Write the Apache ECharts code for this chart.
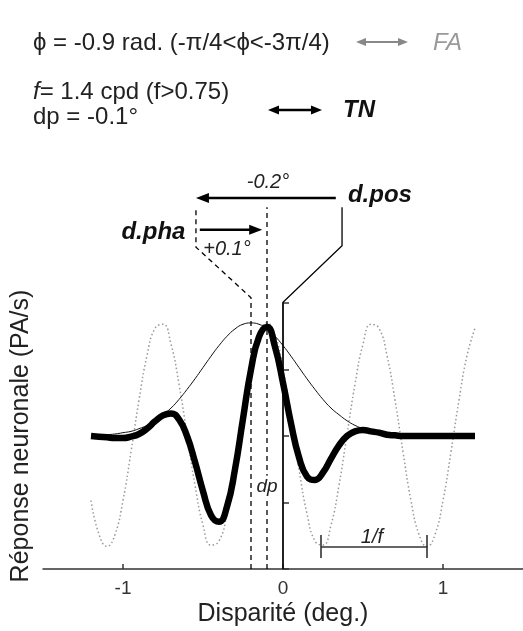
<!DOCTYPE html>
<html><head><meta charset="utf-8">
<script src="https://cdn.jsdelivr.net/npm/echarts@6/dist/echarts.min.js"></script>
<style>html,body{margin:0;padding:0;background:#fff}#c{width:523px;height:631px}</style>
</head><body><div id="c"></div>
<script>
// ---- data ----
const disparity = [-1.2,-1.15,-1.1,-1.05,-1.0,-0.95,-0.9,-0.85,-0.8,-0.75,-0.7,-0.65,-0.6,-0.55,-0.5,-0.45,-0.4,-0.35,-0.3,-0.25,-0.2,-0.15,-0.1,-0.05,0,0.05,0.1,0.15,0.2,0.25,0.3,0.35,0.4,0.45,0.5,0.55,0.6,0.65,0.7,0.75,0.8,0.85,0.9,0.95,1.0,1.05,1.1,1.15,1.2];
const gaborResponse = [2.00,1.99,1.98,1.97,1.97,1.99,2.03,2.11,2.22,2.31,2.34,2.25,2.00,1.61,1.17,0.81,0.71,0.94,1.50,2.26,3.00,3.49,3.64,3.34,2.80,2.19,1.68,1.39,1.34,1.45,1.66,1.86,2.00,2.07,2.09,2.07,2.05,2.02,2.01,2.00,2.00,2.00,2.00,2.00,2.00,2.00,2.00,2.00,2.00];
const gaussEnvelope = [2.01,2.01,2.02,2.03,2.05,2.07,2.11,2.16,2.23,2.32,2.42,2.55,2.70,2.86,3.03,3.20,3.36,3.50,3.61,3.68,3.70,3.68,3.61,3.50,3.36,3.20,3.03,2.86,2.70,2.55,2.42,2.32,2.23,2.16,2.11,2.07,2.05,2.03,2.02,2.01,2.01,2.00,2.00,2.00,2.00,2.00,2.00,2.00,2.00];
const carrierWave = [1.03,0.52,0.34,0.52,1.03,1.76,2.54,3.21,3.62,3.68,3.38,2.78,2.02,1.26,0.66,0.36,0.42,0.83,1.50,2.28,3.01,3.52,3.70,3.52,3.01,2.28,1.50,0.83,0.42,0.36,0.66,1.26,2.02,2.78,3.38,3.68,3.62,3.21,2.54,1.76,1.03,0.52,0.34,0.52,1.03,1.76,2.54,3.21,3.62];
const xTicks = [-1, 0, 1];
// annotation geometry in data units
const funnelPha = [[-0.2,0],[-0.2,4.08],[-0.544,4.84],[-0.544,5.44]];
const dpLine = [[-0.1,0],[-0.1,5.44]];
const funnelPos = [[0,0],[0,4.01],[0.369,4.86],[0.369,5.44]];
const arrowPos = [[0.33,5.58],[-0.544,5.58]];
const arrowPha = [[-0.52,5.1],[-0.13,5.1]];
const periodBar = [[0.2375,0.33],[0.9,0.33]];

const FONT = "'Liberation Sans', Arial, Helvetica, sans-serif";
const chart = echarts.init(document.getElementById('c'), null, {renderer:'canvas'});

const pts = arr => disparity.map((x,i)=>[x, arr[i]]);
chart.setOption({
  animation:false,
  backgroundColor:'#fff',
  grid:{left:43,right:0,top:303,bottom:62,containLabel:false,outerBoundsMode:'none'},
  xAxis:{type:'value',min:-1.5,max:1.5,interval:0.5,
    name:'Disparité (deg.)',nameLocation:'middle',nameGap:33,
    nameTextStyle:{fontSize:25,color:'#222',fontFamily:FONT},
    axisLine:{show:true,onZero:false,lineStyle:{color:'#333',width:1.5}},
    axisTick:{show:true,inside:true,length:5,customValues:xTicks,lineStyle:{color:'#333',width:1.5}},
    axisLabel:{customValues:xTicks,fontSize:19,color:'#333',margin:10,fontFamily:FONT},
    splitLine:{show:false}},
  yAxis:{type:'value',min:0,max:4,interval:1,
    name:'Réponse neuronale (PA/s)',nameLocation:'middle',nameGap:9,
    nameTextStyle:{fontSize:25,color:'#222',fontFamily:FONT},
    axisLine:{show:true,lineStyle:{color:'#333',width:1.5}},
    axisTick:{show:true,inside:true,length:6,lineStyle:{color:'#333',width:1.5}},
    axisLabel:{show:false},
    splitLine:{show:false}},
  series:[
    {type:'line',data:pts(carrierWave),showSymbol:false,smooth:true,z:1,
      lineStyle:{color:'#999',width:1.5,type:[1.5,2.5]}},
    {type:'line',data:pts(gaussEnvelope),showSymbol:false,smooth:true,z:2,
      lineStyle:{color:'#111',width:1}},
    {type:'line',data:pts(gaborResponse),showSymbol:false,smooth:true,z:3,
      lineStyle:{color:'#000',width:6.5,cap:'butt',join:'round'}}
  ]
});

const P = (x,y) => chart.convertToPixel({gridIndex:0},[x,y]);
const g = [];
function poly(points, style){
  g.push({type:'polyline',z:10,shape:{points:points.map(p=>P(p[0],p[1]))},style:Object.assign({fill:null,stroke:'#000',lineWidth:1.3},style)});
}
function arrowPx(a,b,heads,color,lw,len,wid){
  const dx=b[0]-a[0], dy=b[1]-a[1], L=Math.hypot(dx,dy), ux=dx/L, uy=dy/L, px=-uy, py=ux;
  let s=a.slice(), e=b.slice();
  const head=(tip,dir)=>{
    const bx=tip[0]-dir*ux*len, by=tip[1]-dir*uy*len;
    g.push({type:'polygon',z:10,shape:{points:[tip,[bx+px*wid/2,by+py*wid/2],[bx-px*wid/2,by-py*wid/2]]},style:{fill:color}});
    return [bx+dir*ux*1, by+dir*uy*1];
  };
  if(heads.includes('end')) e=head(b,1);
  if(heads.includes('start')) s=head(a,-1);
  g.push({type:'line',z:10,shape:{x1:s[0],y1:s[1],x2:e[0],y2:e[1]},style:{stroke:color,lineWidth:lw}});
}
function text(t,x,y,opt){
  g.push({type:'text',z:11,x:x,y:y,style:Object.assign({text:t,fontFamily:FONT,fontSize:24,fill:'#222',align:'left',verticalAlign:'middle'},opt)});
}

// funnel / reference lines
poly(funnelPha,{lineDash:[5,4]});
poly(dpLine,{lineDash:[5,4]});
poly(funnelPos,{});
// arrows in plot coordinates
arrowPx(P(...arrowPos[0]),P(...arrowPos[1]),['end'],'#000',2.5,13,10);
arrowPx(P(...arrowPha[0]),P(...arrowPha[1]),['end'],'#000',2.5,13,10);
// 1/f bar
const pb0=P(...periodBar[0]), pb1=P(...periodBar[1]);
g.push({type:'line',z:10,shape:{x1:pb0[0],y1:pb0[1],x2:pb1[0],y2:pb1[1]},style:{stroke:'#333',lineWidth:1.6}});
[pb0,pb1].forEach(p=>g.push({type:'line',z:10,shape:{x1:p[0],y1:p[1]-12,x2:p[0],y2:p[1]+11},style:{stroke:'#333',lineWidth:1.6}}));

// plot annotation labels
let q;
q=P(-0.094,5.82); text('-0.2°',q[0],q[1],{fontStyle:'italic',fontSize:20,align:'center'});
q=P(0.406,5.62); text('d.pos',q[0],q[1],{fontStyle:'italic',fontWeight:'bold',fontSize:24,fill:'#111'});
q=P(-0.61,5.06); text('d.pha',q[0],q[1],{fontStyle:'italic',fontWeight:'bold',fontSize:24,fill:'#111',align:'right'});
q=P(-0.35,4.8); text('+0.1°',q[0],q[1],{fontStyle:'italic',fontSize:20,align:'center'});
q=P(-0.1,1.23); text('dp',q[0],q[1],{fontStyle:'italic',fontSize:19,align:'center',backgroundColor:'#fff',padding:[2,1]});
q=P(0.556,0.48); text('1/f',q[0],q[1],{fontStyle:'italic',fontSize:20,align:'center'});

// header
text('\u03D5 = -0.9 rad. (-\u03C0/4<\u03D5<-3\u03C0/4)',33,43,{fontSize:24});
arrowPx([356,42],[408,42],['start','end'],'#888',2,10,8);
text('FA',433,43,{fontStyle:'italic',fontSize:24,fill:'#999'});
g.push({type:'text',z:11,x:33,y:92,style:{text:'{i|f}= 1.4 cpd (f>0.75)',fontFamily:FONT,fontSize:24,fill:'#222',align:'left',verticalAlign:'middle',rich:{i:{fontStyle:'italic',fontFamily:FONT,fontSize:24,fill:'#222'}}}});
text('dp = -0.1°',33,117,{fontSize:24});
arrowPx([268,110],[322,110],['start','end'],'#000',2.5,11,9);
text('TN',343,110,{fontStyle:'italic',fontWeight:'bold',fontSize:24,fill:'#111'});

chart.setOption({graphic:{elements:g}});
</script>
</body></html>
